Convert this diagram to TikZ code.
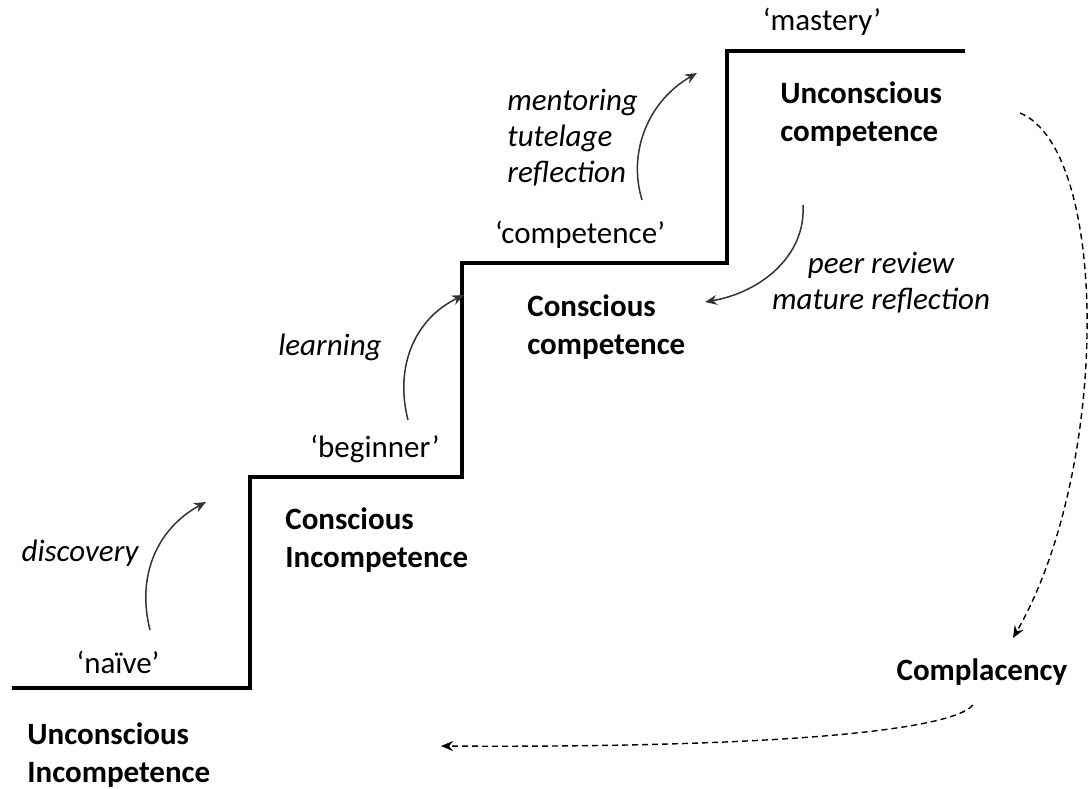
\documentclass[tikz,border=0pt]{standalone}
\usepackage{fontspec}
\setmainfont{Carlito}
\usetikzlibrary{arrows.meta}
\begin{document}
\begin{tikzpicture}[x=0.5pt,y=-0.5pt,
  stage/.style={font=\fontsize{15.5}{19}\selectfont\bfseries, align=left, anchor=west, inner sep=0pt},
  level/.style={font=\fontsize{15.5}{19}\selectfont, inner sep=0pt},
  act/.style={font=\fontsize{15.5}{18}\selectfont\itshape, inner sep=0pt},
  stairs/.style={line width=2pt, line join=miter},
  solidarr/.style={line width=0.75pt, draw=black!80, -{Stealth[length=6pt,width=5pt]}},
  dasharr/.style={line width=0.7pt, dashed, dash pattern=on 3pt off 2pt, -{Stealth[length=6pt,width=5pt]}}]
\useasboundingbox (0,0) rectangle (1092,788);
% staircase
\draw[stairs] (12,688) -- (250,688) -- (250,477) -- (462,477) -- (462,263) -- (727,263) -- (727,51) -- (965,51);
% level labels
\node[level] (naive) at (118,662) {‘naïve’};
\node[level] (beginner) at (375,449) {‘beginner’};
\node[level] (competence) at (580,235) {‘competence’};
\node[level] (mastery) at (822,22) {‘mastery’};
% stage labels
\node[stage] (uc) at (780,114) {Unconscious\\competence};
\node[stage] (cc) at (527,327) {Conscious\\competence};
\node[stage] (ci) at (285,540) {Conscious\\Incompetence};
\node[stage] (ui) at (27,755) {Unconscious\\Incompetence};
\node[stage, anchor=center] (comp) at (982,672) {Complacency};
% activity labels
\node[act] (disc) at (80,553) {discovery};
\node[act] (learn) at (330,347) {learning};
\node[act, align=left, anchor=west] (ment) at (507,138) {mentoring\\tutelage\\reflection};
\node[act, align=center] (peer) at (881,283) {peer review\\mature reflection};
% arrow end points
\coordinate (d1) at (150,630); \coordinate (d2) at (206,502);
\coordinate (l1) at (408,420); \coordinate (l2) at (464,295);
\coordinate (m1) at (642,200); \coordinate (m2) at (697,73);
\coordinate (p1) at (803,205); \coordinate (p2) at (705,302);
\coordinate (c1) at (1020,113); \coordinate (c2) at (1013,638);
\coordinate (r1) at (973,705); \coordinate (r2) at (441,746);
% arrows
\draw[solidarr] (d1) .. controls (136,575) and (158,528) .. (d2);
\draw[solidarr] (l1) .. controls (394,365) and (416,318) .. (l2);
\draw[solidarr] (m1) .. controls (627,150) and (650,100) .. (m2);
\draw[solidarr] (p1) .. controls (806,255) and (762,292) .. (p2);
\draw[dasharr] (c1) .. controls (1110,150) and (1110,470) .. (c2);
\draw[dasharr] (r1) .. controls (950,732) and (760,748) .. (r2);
\end{tikzpicture}
\end{document}
